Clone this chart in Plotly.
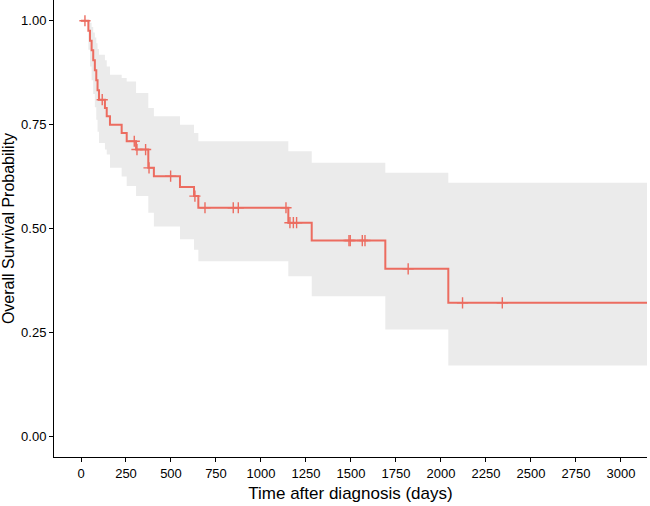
import plotly.graph_objects as go

# Kaplan-Meier estimate
event_times = [0, 41, 50, 59, 68, 77, 85, 92, 100, 133, 143, 161, 226, 254, 306,
               374, 405, 550, 628, 652, 1152, 1282, 1691, 2041, 3145]
surv = [1.0, 0.976, 0.952, 0.929, 0.905, 0.881, 0.857, 0.833, 0.810, 0.790, 0.770,
        0.750, 0.730, 0.710, 0.690, 0.646, 0.626, 0.600, 0.578, 0.550, 0.514, 0.471,
        0.403, 0.321, 0.321]
upper = [1.0, 1.0, 0.995, 0.985, 0.972, 0.960, 0.946, 0.932, 0.918, 0.905, 0.890,
         0.870, 0.862, 0.854, 0.826, 0.790, 0.770, 0.750, 0.730, 0.710, 0.686, 0.658,
         0.634, 0.610, 0.610]
lower = [1.0, 0.930, 0.890, 0.857, 0.824, 0.792, 0.762, 0.733, 0.706, 0.690, 0.678,
         0.646, 0.625, 0.602, 0.578, 0.538, 0.505, 0.474, 0.449, 0.421, 0.385, 0.337,
         0.257, 0.170, 0.170]

# Censored observations
cens_times = [22, 118, 296, 311, 359, 378, 498, 633, 689, 846, 874, 1139, 1161, 1180,
              1198, 1489, 1496, 1563, 1578, 1818, 2120, 2341]
cens_surv = [1.0, 0.810, 0.710, 0.690, 0.690, 0.646, 0.626, 0.578, 0.550, 0.550, 0.550,
             0.550, 0.514, 0.514, 0.514, 0.471, 0.471, 0.471, 0.471, 0.403, 0.321, 0.321]

x_ticks = list(range(0, 3001, 250))
y_ticks = [0, 0.25, 0.5, 0.75, 1.0]
y_tick_labels = ["0.00", "0.25", "0.50", "0.75", "1.00"]

RED = "#EC6C60"
BAND = "#EBEBEB"

fig = go.Figure()
fig.add_trace(go.Scatter(x=event_times, y=lower, mode="lines", line=dict(width=0, shape="hv"),
                         hoverinfo="skip", showlegend=False))
fig.add_trace(go.Scatter(x=event_times, y=upper, mode="lines", line=dict(width=0, shape="hv"),
                         fill="tonexty", fillcolor=BAND, hoverinfo="skip", showlegend=False))
fig.add_trace(go.Scatter(x=event_times, y=surv, mode="lines",
                         line=dict(color=RED, width=2, shape="hv"), showlegend=False))
fig.add_trace(go.Scatter(x=cens_times, y=cens_surv, mode="markers",
                         marker=dict(symbol="cross-thin-open", size=8, color=RED,
                                     line=dict(color=RED, width=1.4)),
                         showlegend=False))

font = "Liberation Sans, Arial, sans-serif"
fig.update_layout(
    width=650, height=506,
    margin=dict(l=54, r=3, t=0, b=49),
    paper_bgcolor="white", plot_bgcolor="white",
    font=dict(family=font, color="black"),
    xaxis=dict(range=[-150, 3145], tickmode="array", tickvals=x_ticks,
               showgrid=False, zeroline=False, showline=True, linecolor="black",
               linewidth=1, ticks="outside", ticklen=4, tickcolor="black",
               tickfont=dict(size=13, color="black"),
               title=dict(text="Time after diagnosis (days)", font=dict(size=17), standoff=7)),
    yaxis=dict(range=[-0.05, 1.05], tickmode="array", tickvals=y_ticks,
               ticktext=y_tick_labels,
               showgrid=False, zeroline=False, showline=True, linecolor="black",
               linewidth=1, ticks="outside", ticklen=4, tickcolor="black",
               tickfont=dict(size=13, color="black"),
               title=dict(text="Overall Survival Probability", font=dict(size=16), standoff=3)),
)

fig.write_html("out.html")
